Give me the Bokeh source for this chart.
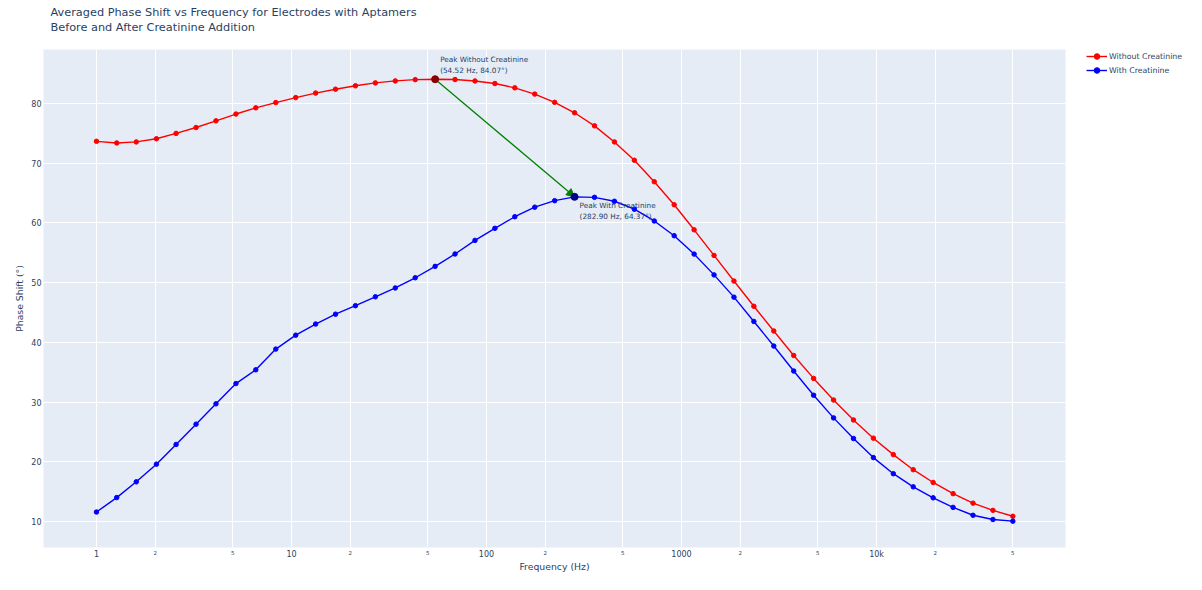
import numpy as np
from bokeh.plotting import figure
from bokeh.layouts import row
from bokeh.models import (Range1d, FixedTicker, Legend, LegendItem, Label, LogAxis,
                          Arrow, NormalHead, ColumnDataSource, Title)
from bokeh.embed import file_html
from bokeh.resources import INLINE

# ---------------- data ----------------
freq_hz = [1.00, 1.27, 1.60, 2.03, 2.56, 3.24, 4.10, 5.19, 6.56, 8.31,
           10.51, 13.30, 16.82, 21.28, 26.92, 34.06, 43.10, 54.52, 68.98, 87.27,
           110.41, 139.69, 176.73, 223.60, 282.90, 357.93, 452.83, 572.93, 724.85, 917.02,
           1160.3, 1468.0, 1857.3, 2349.6, 2972.7, 3761.2, 4758.6, 6020.6, 7617.2, 9636.2,
           12192.0, 15425.0, 19516.0, 24692.0, 31240.0, 39525.0, 50000.0]

phase_without = [73.67, 73.40, 73.57, 74.10, 75.00, 75.98, 77.10, 78.24, 79.28, 80.16,
                 80.99, 81.75, 82.40, 82.97, 83.46, 83.79, 84.00, 84.07, 84.02, 83.78,
                 83.35, 82.63, 81.58, 80.20, 78.45, 76.26, 73.57, 70.50, 66.90, 63.05,
                 58.85, 54.56, 50.27, 46.04, 41.90, 37.80, 33.96, 30.34, 27.00, 23.95,
                 21.20, 18.67, 16.53, 14.66, 13.07, 11.86, 10.87]

phase_with = [11.58, 14.00, 16.64, 19.60, 22.90, 26.30, 29.70, 33.10, 35.40, 38.87,
              41.20, 43.07, 44.72, 46.14, 47.63, 49.11, 50.82, 52.73, 54.80, 57.08,
              59.10, 61.04, 62.64, 63.73, 64.37, 64.29, 63.63, 62.30, 60.33, 57.86,
              54.78, 51.30, 47.57, 43.50, 39.38, 35.20, 31.14, 27.35, 23.89, 20.70,
              18.00, 15.80, 13.96, 12.36, 11.04, 10.33, 10.05]

series_names = ["Without Creatinine", "With Creatinine"]

decade_ticks = [1, 10, 100, 1000, 10000]
decade_labels = ["1", "10", "100", "1000", "10k"]
minor_ticks = [2, 5, 20, 50, 200, 500, 2000, 5000, 20000, 50000]
minor_labels = ["2", "5", "2", "5", "2", "5", "2", "5", "2", "5"]
y_ticks = [10, 20, 30, 40, 50, 60, 70, 80]

title_lines = ["Averaged Phase Shift vs Frequency for Electrodes with Aptamers",
               "Before and After Creatinine Addition"]

# ---------------- style ----------------
FONT = "DejaVu Sans"
TXT = "#2a3f5f"
BG = "#E5ECF6"
Y0, Y1 = 5.64, 89.05
MAIN_W, LEG_W, H = 1068, 118, 574

p = figure(width=MAIN_W, height=H, x_axis_type="log",
           x_range=Range1d(0.535, 93100), y_range=Range1d(Y0, Y1),
           output_backend="svg", toolbar_location=None, title=None,
           min_border_left=43, min_border_right=3, min_border_top=49, min_border_bottom=0,
           background_fill_color=BG, border_fill_color="white", outline_line_color=None)

# titles: white (invisible) spacer nearest the frame, then line 2, then line 1
t0 = Title(text=".", standoff=13, text_font=FONT, text_font_size="1px", text_color="white")
t2 = Title(text=title_lines[1], align="left", offset=7, standoff=0,
           text_font=FONT, text_font_size="11.3px", text_font_style="normal", text_color=TXT)
t1 = Title(text=title_lines[0], align="left", offset=7, standoff=0,
           text_font=FONT, text_font_size="11.3px", text_font_style="normal", text_color=TXT)
p.add_layout(t0, "above")
p.add_layout(t2, "above")
p.add_layout(t1, "above")

# axes: small "2"/"5" labels nearest the frame, decade labels pulled up to the same row
xa = p.xaxis[0]
xa.ticker = FixedTicker(ticks=decade_ticks, minor_ticks=[])
xa.major_label_overrides = {t: l for t, l in zip(decade_ticks, decade_labels)}
xa.axis_label = "Frequency (Hz)"
xm = LogAxis(ticker=FixedTicker(ticks=minor_ticks, minor_ticks=[]))
xm.major_label_overrides = {t: l for t, l in zip(minor_ticks, minor_labels)}
p.below = [xm, xa]
ya = p.yaxis[0]
ya.ticker = FixedTicker(ticks=y_ticks, minor_ticks=[])
ya.axis_label = "Phase Shift (°)"

for ax in (xa, ya, xm):
    ax.axis_line_color = None
    ax.major_tick_line_color = None
    ax.minor_tick_line_color = None
    ax.major_tick_out = 0
    ax.major_tick_in = 0
    ax.minor_tick_out = 0
    ax.minor_tick_in = 0
    ax.major_label_text_font = FONT
    ax.major_label_text_font_size = "8px"
    ax.major_label_text_color = TXT
    ax.axis_label_text_font = FONT
    ax.axis_label_text_font_size = "9.3px"
    ax.axis_label_text_font_style = "normal"
    ax.axis_label_text_color = TXT
xm.major_label_text_font_size = "5.5px"
xm.major_label_standoff = 2
xa.major_label_standoff = -8
xa.axis_label_standoff = -1
ya.major_label_standoff = 2
ya.axis_label_standoff = 3

# grid
p.xgrid.ticker = FixedTicker(ticks=sorted(decade_ticks + minor_ticks))
p.ygrid.ticker = FixedTicker(ticks=y_ticks)
for g in (p.xgrid[0], p.ygrid[0]):
    g.grid_line_color = "white"
    g.grid_line_width = 1

# series
src = ColumnDataSource(dict(f=freq_hz, a=phase_without, b=phase_with))
l1 = p.line("f", "a", source=src, line_color="red", line_width=1.4)
s1 = p.scatter("f", "a", source=src, size=4.5, color="red")
l2 = p.line("f", "b", source=src, line_color="blue", line_width=1.4)
s2 = p.scatter("f", "b", source=src, size=4.5, color="blue")

# peaks
i1 = int(np.argmax(phase_without))
i2 = int(np.argmax(phase_with))
pf1, pp1 = freq_hz[i1], phase_without[i1]
pf2, pp2 = freq_hz[i2], phase_with[i2]

arrow = Arrow(end=NormalHead(size=8, fill_color="green", line_color="green", line_width=1),
              x_start=pf1, y_start=pp1, x_end=pf2, y_end=pp2,
              line_color="green", line_width=1.3)
p.add_layout(arrow)

pk1 = p.scatter([pf1], [pp1], size=7, color="darkred")
pk2 = p.scatter([pf2], [pp2], size=7, color="darkblue")
pk1.level = "overlay"
pk2.level = "overlay"

p.add_layout(Label(x=pf1, y=pp1, x_offset=5, y_offset=4,
                   text=f"Peak {series_names[0]}\n({pf1:.2f} Hz, {pp1:.2f}°)",
                   text_font=FONT, text_font_size="7.3px", text_color=TXT,
                   text_align="left", text_baseline="bottom", text_line_height=1.25))
p.add_layout(Label(x=pf2, y=pp2, x_offset=5, y_offset=-4,
                   text=f"Peak {series_names[1]}\n({pf2:.2f} Hz, {pp2:.2f}°)",
                   text_font=FONT, text_font_size="7.3px", text_color=TXT,
                   text_align="left", text_baseline="top", text_line_height=1.25))

# legend lives in a narrow companion figure to the right (frames are aligned by the row)
q = figure(width=LEG_W, height=H, x_range=Range1d(0, 1), y_range=Range1d(0, 1),
           output_backend="svg", toolbar_location=None, title=None,
           min_border_left=18, min_border_right=0, min_border_top=0, min_border_bottom=0,
           background_fill_color="white", border_fill_color="white", outline_line_color=None)
q.axis.visible = False
q.grid.visible = False
off = dict(x=[5], y=[5])   # outside the legend figure's ranges: only the legend swatches show
ql1 = q.line(x="x", y="y", source=ColumnDataSource(off), line_color="red", line_width=1.4)
qs1 = q.scatter(x="x", y="y", source=ColumnDataSource(off), size=4.5, color="red")
ql2 = q.line(x="x", y="y", source=ColumnDataSource(off), line_color="blue", line_width=1.4)
qs2 = q.scatter(x="x", y="y", source=ColumnDataSource(off), size=4.5, color="blue")
legend = Legend(items=[LegendItem(label=series_names[0], renderers=[ql1, qs1]),
                       LegendItem(label=series_names[1], renderers=[ql2, qs2])],
                location="top_left", orientation="vertical",
                padding=3, margin=0, spacing=0, glyph_width=21, glyph_height=14,
                label_height=14, label_standoff=2,
                label_text_font=FONT, label_text_font_size="7.8px", label_text_color=TXT,
                border_line_color=None, background_fill_alpha=0)
q.add_layout(legend)

layout = row(p, q, spacing=0)
open("out.html", "w").write(file_html(layout, INLINE))
